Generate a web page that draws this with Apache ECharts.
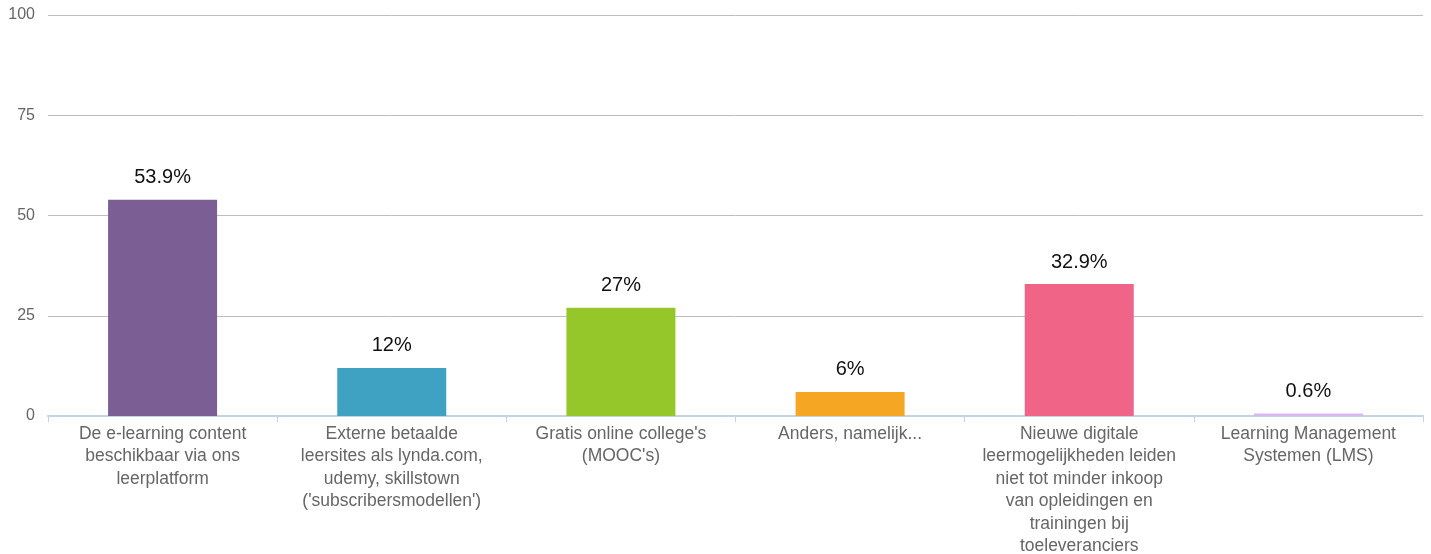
<!DOCTYPE html>
<html><head><meta charset="utf-8">
<script src="https://cdn.jsdelivr.net/npm/echarts@6/dist/echarts.min.js"></script>
<style>html,body{margin:0;padding:0;background:#fff}#c{width:1431px;height:554px}</style>
</head><body><div id="c"></div>
<script>
const categories = [
  "De e-learning content\nbeschikbaar via ons\nleerplatform",
  "Externe betaalde\nleersites als lynda.com,\nudemy, skillstown\n('subscribersmodellen')",
  "Gratis online college's\n(MOOC's)",
  "Anders, namelijk...",
  "Nieuwe digitale\nleermogelijkheden leiden\nniet tot minder inkoop\nvan opleidingen en\ntrainingen bij\ntoeleveranciers",
  "Learning Management\nSystemen (LMS)"
];
const values = [53.9, 12, 27, 6, 32.9, 0.6];
const barColors = ["#7B5E93", "#3FA2C3", "#96C72A", "#F5A623", "#F06488", "#D9B8F2"];
const yTicks = { min: 0, max: 100, interval: 25 };

const chart = echarts.init(document.getElementById('c'), null, {renderer: 'canvas'});
chart.setOption({
  animation: false,
  grid: { left: 48, right: 8, top: 15, bottom: 138, containLabel: false, outerBoundsMode: 'none' },
  xAxis: {
    type: 'category',
    data: categories,
    axisLine: { lineStyle: { color: '#C5D3E3', width: 2 } },
    axisTick: { show: true, length: 6, lineStyle: { color: '#C5D3E3' } },
    axisLabel: {
      interval: 0, color: '#666', fontSize: 17.5, lineHeight: 22.4,
      fontFamily: 'Liberation Sans, Arial, sans-serif', margin: 7
    }
  },
  yAxis: {
    type: 'value', min: yTicks.min, max: yTicks.max, interval: yTicks.interval,
    axisLine: { show: false }, axisTick: { show: false },
    splitLine: { lineStyle: { color: '#BDBDBD', width: 1 } },
    axisLabel: { color: '#666', fontSize: 16, margin: 13, padding: [5, 0, 0, 0], fontFamily: 'Liberation Sans, Arial, sans-serif' }
  },
  series: [{
    type: 'bar',
    data: values.map((v, i) => ({ value: v, itemStyle: { color: barColors[i] } })),
    barWidth: 109,
    label: {
      show: true, position: 'top', distance: 12,
      formatter: p => p.value + '%',
      color: '#111', fontSize: 20, fontFamily: 'Liberation Sans, Arial, sans-serif'
    }
  }]
});
</script></body></html>
